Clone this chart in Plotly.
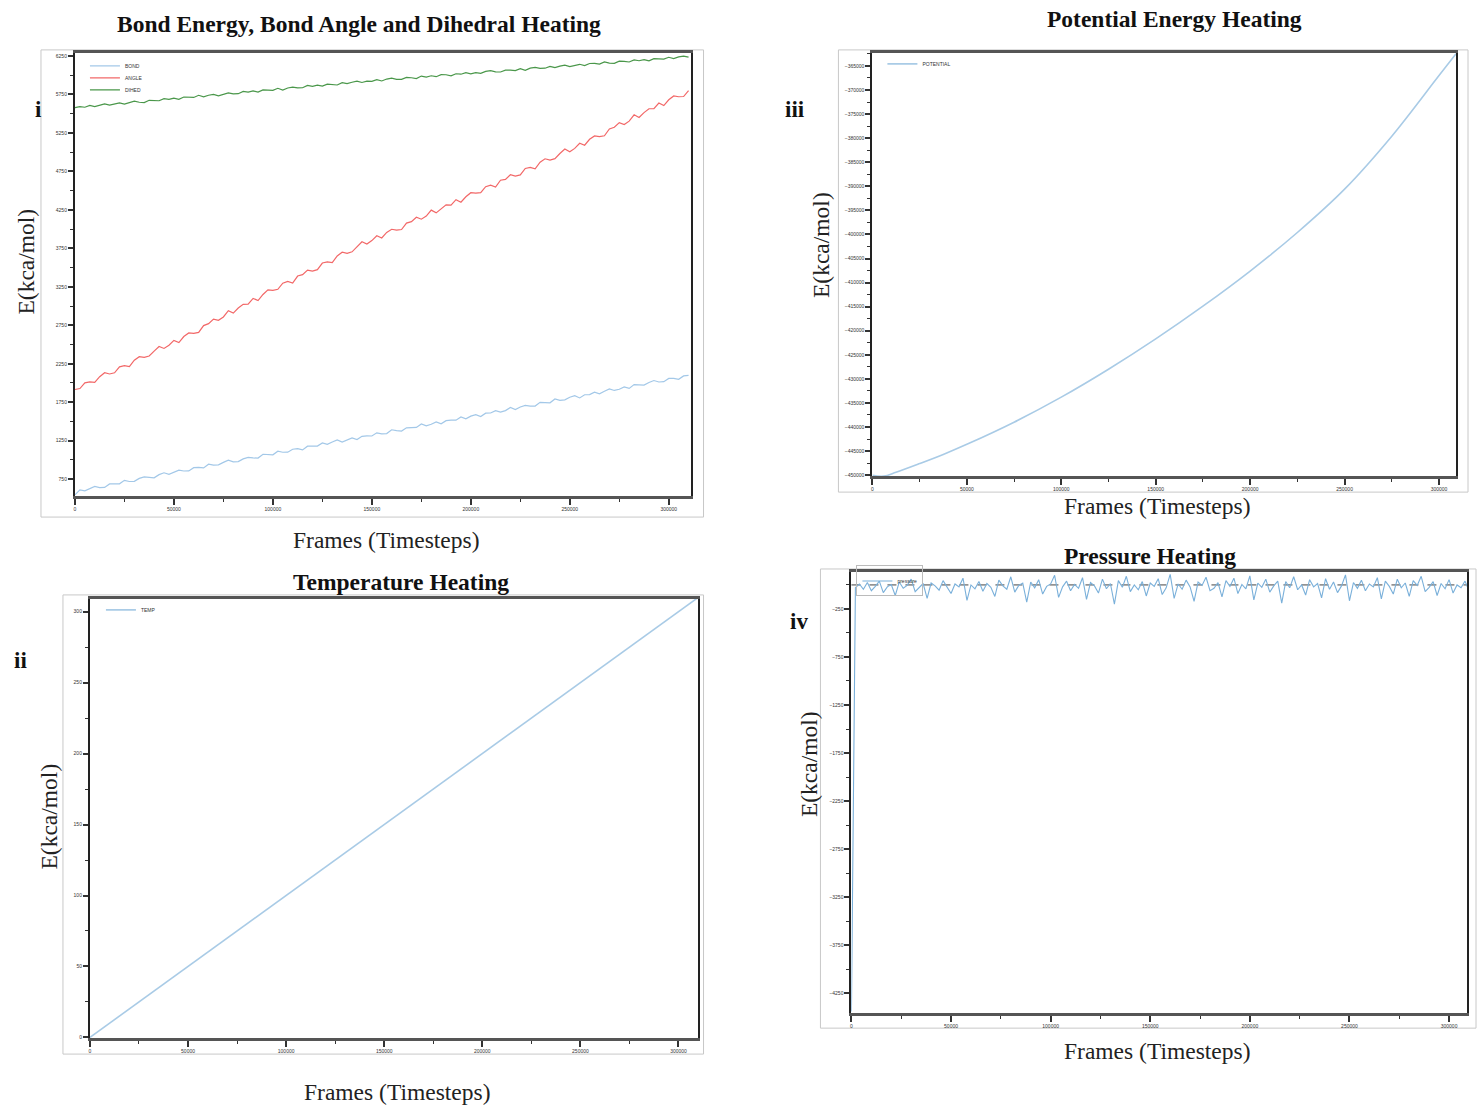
import plotly.graph_objects as go

W, H = 1477, 1106

# ---------------- data ----------------
STEP_I = 2500
BOND = [545, 610, 599, 631, 656, 641, 643, 688, 691, 690, 735, 720, 722, 760, 779, 772, 767, 809, 833, 814,
        842, 868, 856, 857, 899, 904, 897, 945, 933, 936, 968, 997, 975, 979, 1014, 1034, 1026, 1024, 1074, 1070,
        1067, 1113, 1100, 1101, 1139, 1147, 1130, 1179, 1175, 1180, 1221, 1202, 1233, 1261, 1233, 1258, 1286, 1266, 1307, 1313,
        1311, 1352, 1340, 1343, 1392, 1382, 1375, 1417, 1423, 1423, 1468, 1442, 1464, 1494, 1470, 1511, 1517, 1517, 1559, 1535,
        1569, 1589, 1563, 1608, 1610, 1640, 1623, 1641, 1681, 1654, 1688, 1709, 1699, 1700, 1748, 1745, 1742, 1792, 1775, 1781,
        1814, 1835, 1806, 1847, 1849, 1880, 1860, 1892, 1923, 1903, 1919, 1949, 1930, 1979, 1973, 1972, 2006, 2032, 2013, 2017,
        2059, 2059, 2048, 2092, 2098]
ANGLE = [1915, 1928, 2001, 2015, 2007, 2082, 2133, 2117, 2133, 2210, 2225, 2213, 2297, 2342, 2334, 2351, 2415, 2474, 2449, 2490,
         2553, 2526, 2604, 2650, 2644, 2657, 2746, 2771, 2831, 2814, 2858, 2940, 2909, 2975, 3023, 3026, 3100, 3072, 3151, 3210,
         3205, 3218, 3297, 3320, 3298, 3390, 3408, 3467, 3454, 3473, 3559, 3575, 3564, 3651, 3700, 3685, 3705, 3775, 3835, 3807,
         3851, 3914, 3885, 3957, 3998, 3987, 3995, 4078, 4097, 4155, 4129, 4170, 4247, 4211, 4269, 4316, 4312, 4383, 4350, 4420,
         4473, 4467, 4474, 4551, 4572, 4547, 4635, 4647, 4706, 4689, 4704, 4788, 4801, 4784, 4870, 4914, 4898, 4915, 4982, 5040,
         5005, 5049, 5116, 5090, 5167, 5211, 5203, 5213, 5301, 5323, 5384, 5359, 5403, 5486, 5450, 5514, 5564, 5564, 5638, 5606,
         5681, 5731, 5720, 5723, 5799]
DIHED = [5578, 5592, 5584, 5607, 5591, 5611, 5627, 5611, 5622, 5640, 5624, 5648, 5663, 5649, 5645, 5674, 5673, 5668, 5696, 5685,
         5701, 5687, 5717, 5715, 5711, 5739, 5718, 5740, 5750, 5732, 5754, 5770, 5758, 5760, 5790, 5780, 5796, 5781, 5809, 5809,
         5803, 5830, 5808, 5834, 5845, 5835, 5837, 5867, 5854, 5870, 5858, 5884, 5883, 5873, 5904, 5892, 5909, 5924, 5906, 5924,
         5920, 5943, 5925, 5950, 5962, 5947, 5947, 5971, 5967, 5957, 5989, 5976, 5993, 5981, 6007, 6006, 5992, 6019, 6013, 6034,
         6017, 6034, 6024, 6050, 6059, 6043, 6042, 6066, 6067, 6060, 6085, 6064, 6092, 6101, 6089, 6091, 6115, 6098, 6118, 6132,
         6112, 6130, 6142, 6124, 6152, 6153, 6144, 6172, 6157, 6155, 6183, 6181, 6172, 6199, 6188, 6203, 6187, 6216, 6212, 6210,
         6233, 6216, 6238, 6249, 6236]

TEMP_FRAMES = [0, 10000, 20000, 30000, 40000, 50000, 60000, 70000, 80000, 90000, 100000, 110000, 120000, 130000,
               140000, 150000, 160000, 170000, 180000, 190000, 200000, 210000, 220000, 230000, 240000, 250000,
               260000, 270000, 280000, 290000, 300000, 310000]
TEMP = [0, 10, 20.1, 29.9, 40, 50.1, 60, 69.9, 80, 90.1, 100, 110, 120.1, 130, 139.9, 150, 160, 170.1, 180, 190,
        200, 210.1, 220, 229.9, 240, 250, 260.1, 270, 280, 290, 300, 310]

POT_FRAMES = [0, 6000, 12500, 25000, 37500, 50000, 75000, 100000, 125000, 150000, 175000, 200000, 225000, 250000,
              275000, 300000, 309000]
POTENTIAL = [-450050, -450200, -449400, -447600, -445700, -443600, -439000, -433800, -428000, -421700,
             -414900, -407600, -399600, -390600, -379600, -367000, -362500]

STEP_P = 2000
PRESSURE = [-4440, -30, 10, -45, 25, -60, -15, 40, -80, -20,
            5, -110, 30, -35, -5, 60, -70, -25, 15, -140,
            20, -10, -55, 45, -30, -90, 10, -20, 70, -160,
            0, -40, 35, -65, 15, -25, -120, 50, -10, -45,
            85, -75, -5, 20, -180, 30, -30, 55, -95, -15,
            10, 100, -130, -20, 40, -60, 5, -35, 75, -150,
            25, -10, -85, 60, -40, 15, -200, 45, -25, 90,
            -70, 0, -50, 35, -115, 20, -15, 65, -100, -30,
            110, -140, 10, -45, 50, -20, -170, 30, -5, 80,
            -60, -35, 25, -125, 45, -15, 70, -90, 5, -40,
            95, -155, 20, -25, 60, -75, -10, 40, -190, 35,
            -30, 85, -50, 0, -105, 55, -20, 15, -135, 65,
            -45, 30, -80, -10, 105, -165, 25, -35, 50, -60,
            10, -20, 75, -145, 40, -15, -95, 60, -30, 20,
            -120, 45, -5, 90, -70, -25, 35, -110, 15, -40,
            55, -85, 0, -30, 40, -60, 10]

X_TICKS = [0, 50000, 100000, 150000, 200000, 250000, 300000]

TITLES = ["Bond Energy, Bond Angle and Dihedral Heating", "Potential Energy Heating",
          "Temperature Heating", "Pressure Heating"]
XLABEL = "Frames (Timesteps)"
YLABEL = "E(kca/mol)"
PANEL_TAGS = ["i", "iii", "ii", "iv"]

# ---------------- figure ----------------
def frames(n, step):
    return [i * step for i in range(n)]

def px(x):
    return x / W

def py(y):
    return 1 - y / H

fig = go.Figure()
LW = 1.2
fig.add_trace(go.Scatter(x=frames(len(BOND), STEP_I), y=BOND, mode="lines", name="BOND",
                         line=dict(color="#a3c8e8", width=LW), xaxis="x", yaxis="y", legend="legend"))
fig.add_trace(go.Scatter(x=frames(len(ANGLE), STEP_I), y=ANGLE, mode="lines", name="ANGLE",
                         line=dict(color="#f26868", width=LW), xaxis="x", yaxis="y", legend="legend2"))
fig.add_trace(go.Scatter(x=frames(len(DIHED), STEP_I), y=DIHED, mode="lines", name="DIHED",
                         line=dict(color="#4a974a", width=LW), xaxis="x", yaxis="y", legend="legend3"))
fig.add_trace(go.Scatter(x=POT_FRAMES, y=POTENTIAL, mode="lines", name="POTENTIAL", line_shape="spline",
                         line=dict(color="#a9cbe6", width=1.6, smoothing=1.0), xaxis="x2", yaxis="y2", legend="legend4"))
fig.add_trace(go.Scatter(x=TEMP_FRAMES, y=TEMP, mode="lines", name="TEMP",
                         line=dict(color="#a9cbe6", width=1.6), xaxis="x3", yaxis="y3", legend="legend5"))
fig.add_trace(go.Scatter(x=frames(len(PRESSURE), STEP_P), y=PRESSURE, mode="lines", name="pressure",
                         line=dict(color="#7ab0da", width=1.1), xaxis="x4", yaxis="y4", legend="legend6"))

tickfont = dict(size=5, family="Liberation Sans", color="#333")

def xax(dom, anchor, rng):
    return dict(domain=dom, anchor=anchor, range=rng, tickvals=X_TICKS, tickformat="d",
                showgrid=False, zeroline=False, showline=True, linecolor="#555", linewidth=3,
                mirror=True, ticks="outside", ticklen=6, tickwidth=1.5, tickcolor="#333",
                tickfont=tickfont,
                minor=dict(dtick=25000, tick0=0, ticks="outside", ticklen=3, tickwidth=1, tickcolor="#333"))

def yax(dom, anchor, rng, tick0, dtick):
    return dict(domain=dom, anchor=anchor, range=rng, tick0=tick0, dtick=dtick, tickformat="d",
                showgrid=False, zeroline=False, showline=True, linecolor="#222", linewidth=2,
                mirror=True, ticks="outside", ticklen=5, tickwidth=1.5, tickcolor="#333",
                tickfont=tickfont,
                minor=dict(dtick=dtick / 2, tick0=tick0, ticks="outside", ticklen=3, tickwidth=1, tickcolor="#333"))

def leg(xp, yp, border=False):
    d = dict(x=px(xp), y=py(yp), xanchor="left", yanchor="middle",
             font=dict(size=5, family="Liberation Sans", color="#333"),
             bgcolor="rgba(255,255,255,0)", itemwidth=30, tracegroupgap=0)
    if border:
        d.update(bordercolor="#bbb", borderwidth=1)
    return d

fig.update_layout(
    width=W, height=H, autosize=False,
    margin=dict(l=0, r=0, t=0, b=0),
    paper_bgcolor="white", plot_bgcolor="white",
    xaxis=xax([px(74), px(690)], "y", [0, 311000]),
    yaxis=yax([py(497), py(53)], "x", [530, 6290], 750, 500),
    xaxis2=xax([px(872), px(1456)], "y2", [0, 309000]),
    yaxis2=yax([py(477), py(53)], "x2", [-450200, -362300], -450000, 5000),
    xaxis3=xax([px(89), px(697)], "y3", [0, 309700]),
    yaxis3=yax([py(1040), py(600)], "x3", [-0.5, 309], 0, 50),
    xaxis4=xax([px(851), px(1467)], "y4", [0, 309000]),
    yaxis4=yax([py(1015), py(573)], "x4", [-4458, 135], -4250, 500),
    legend=leg(84, 66),
    legend2=leg(84, 78),
    legend3=leg(84, 90),
    legend4=leg(882, 64),
    legend5=leg(100, 611),
    legend6=leg(856, 582, border=True),
    showlegend=True,
)

# panel boxes
for (x0, y0, x1, y1) in [(40, 50, 703, 518), (838, 50, 1468, 493), (62, 596, 703, 1056), (820, 570, 1476, 1030)]:
    fig.add_shape(type="rect", xref="paper", yref="paper", x0=px(x0), x1=px(x1), y0=py(y1), y1=py(y0),
                  line=dict(color="#c8c8c8", width=1), fillcolor="rgba(0,0,0,0)", layer="below")

# zero reference line in pressure panel
fig.add_shape(type="line", xref="x4 domain", yref="y4", x0=0, x1=1, y0=0, y1=0,
              line=dict(color="#444", width=1, dash="dash"), layer="below")

serif = "Liberation Serif"
title_pos = [(358, 24), (1174, 19), (400, 583), (1150, 557)]
for t, (x, y) in zip(TITLES, title_pos):
    fig.add_annotation(text=f"<b>{t}</b>", x=px(x), y=py(y), xref="paper", yref="paper",
                       xanchor="center", yanchor="middle", showarrow=False,
                       font=dict(family=serif, size=23.5, color="#111"))

for (x, y) in [(385, 541), (1157, 507), (396, 1094), (1157, 1053)]:
    fig.add_annotation(text=XLABEL, x=px(x), y=py(y), xref="paper", yref="paper",
                       xanchor="center", yanchor="middle", showarrow=False,
                       font=dict(family=serif, size=23.5, color="#222"))

for (x, y) in [(25, 262), (820, 245), (48, 818), (808, 765)]:
    fig.add_annotation(text=YLABEL, x=px(x), y=py(y), xref="paper", yref="paper",
                       xanchor="center", yanchor="middle", showarrow=False, textangle=-90,
                       font=dict(family=serif, size=23.5, color="#222"))

for t, (x, y) in zip(PANEL_TAGS, [(38, 110), (795, 110), (20, 662), (799, 623)]):
    fig.add_annotation(text=f"<b>{t}</b>", x=px(x), y=py(y), xref="paper", yref="paper",
                       xanchor="center", yanchor="middle", showarrow=False,
                       font=dict(family=serif, size=23, color="#111"))

fig.write_html("out.html")
